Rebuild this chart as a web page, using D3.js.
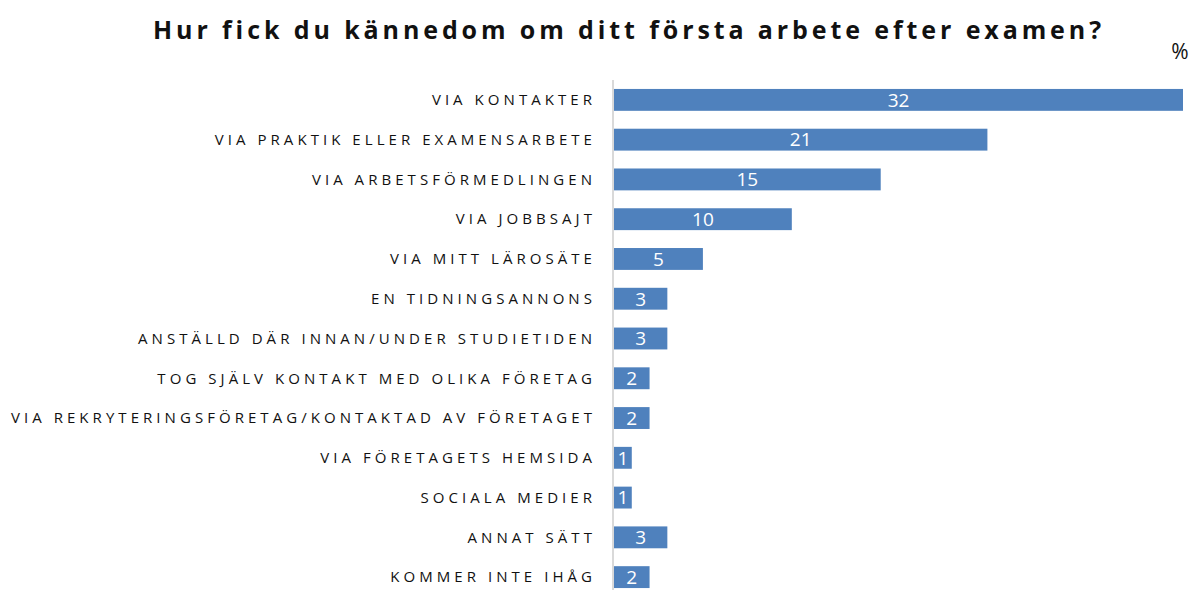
<!DOCTYPE html>
<html>
<head>
<meta charset="utf-8">
<script src="https://cdn.jsdelivr.net/npm/d3@7"></script>
<style>
  body { margin: 0; background: #fff; }
  svg text { font-family: "Open Sans", Lato, sans-serif; }
</style>
</head>
<body>
<script>
// data
const categories = [
    "VIA KONTAKTER",
    "VIA PRAKTIK ELLER EXAMENSARBETE",
    "VIA ARBETSFÖRMEDLINGEN",
    "VIA JOBBSAJT",
    "VIA MITT LÄROSÄTE",
    "EN TIDNINGSANNONS",
    "ANSTÄLLD DÄR INNAN/UNDER STUDIETIDEN",
    "TOG SJÄLV KONTAKT MED OLIKA FÖRETAG",
    "VIA REKRYTERINGSFÖRETAG/KONTAKTAD AV FÖRETAGET",
    "VIA FÖRETAGETS HEMSIDA",
    "SOCIALA MEDIER",
    "ANNAT SÄTT",
    "KOMMER INTE IHÅG"
];
const values = [32, 21, 15, 10, 5, 3, 3, 2, 2, 1, 1, 3, 2];
const title = "Hur fick du kännedom om ditt första arbete efter examen?";
const unit = "%";

const w = 1192, h = 590;
const x0 = 614;

const svg = d3.select("body").append("svg")
    .attr("width", w)
    .attr("height", h);

let xScale = d3.scaleLinear()
    .domain([0, 32])
    .range([x0, 1183]);

let yScale = d3.scaleBand()
    .domain(categories)
    .range([80, 597])
    .paddingInner(0.45)
    .paddingOuter(0.225);

// title
svg.append("text")
    .attr("x", 629)
    .attr("y", 39)
    .attr("text-anchor", "middle")
    .style("font-size", "25px")
    .style("font-weight", "bold")
    .style("letter-spacing", "3.9px")
    .style("fill", "#111")
    .text(title);

svg.append("text")
    .attr("x", 1180)
    .attr("y", 59)
    .attr("text-anchor", "middle")
    .style("font-size", "21px")
    .style("fill", "#111")
    .text(unit);

// bars
svg.selectAll(".bar")
    .data(values)
    .enter()
    .append("rect")
    .attr("class", "bar")
    .attr("x", xScale(0))
    .attr("y", (d, i) => yScale(categories[i]))
    .attr("width", d => xScale(d) - xScale(0))
    .attr("height", yScale.bandwidth())
    .attr("fill", "#4f81bd");

// axis line
svg.append("line")
    .attr("x1", x0 - 1).attr("x2", x0 - 1)
    .attr("y1", 80).attr("y2", h)
    .attr("stroke", "#d9d9d9")
    .attr("stroke-width", 2);

// category labels
svg.selectAll(".cat")
    .data(categories)
    .enter()
    .append("text")
    .attr("class", "cat")
    .attr("x", 596)
    .attr("y", d => yScale(d) + yScale.bandwidth() / 2)
    .attr("dy", "0.35em")
    .attr("text-anchor", "end")
    .style("font-size", "15px")
    .style("letter-spacing", "4.05px")
    .style("fill", "#111")
    .text(d => d);

// value labels
svg.selectAll(".val")
    .data(values)
    .enter()
    .append("text")
    .attr("class", "val")
    .attr("x", d => (xScale(d) + xScale(0)) / 2)
    .attr("y", (d, i) => yScale(categories[i]) + yScale.bandwidth() / 2)
    .attr("dy", "0.36em")
    .attr("text-anchor", "middle")
    .style("font-size", "19px")
    .style("fill", "#fff")
    .text(d => d);
</script>
</body>
</html>
